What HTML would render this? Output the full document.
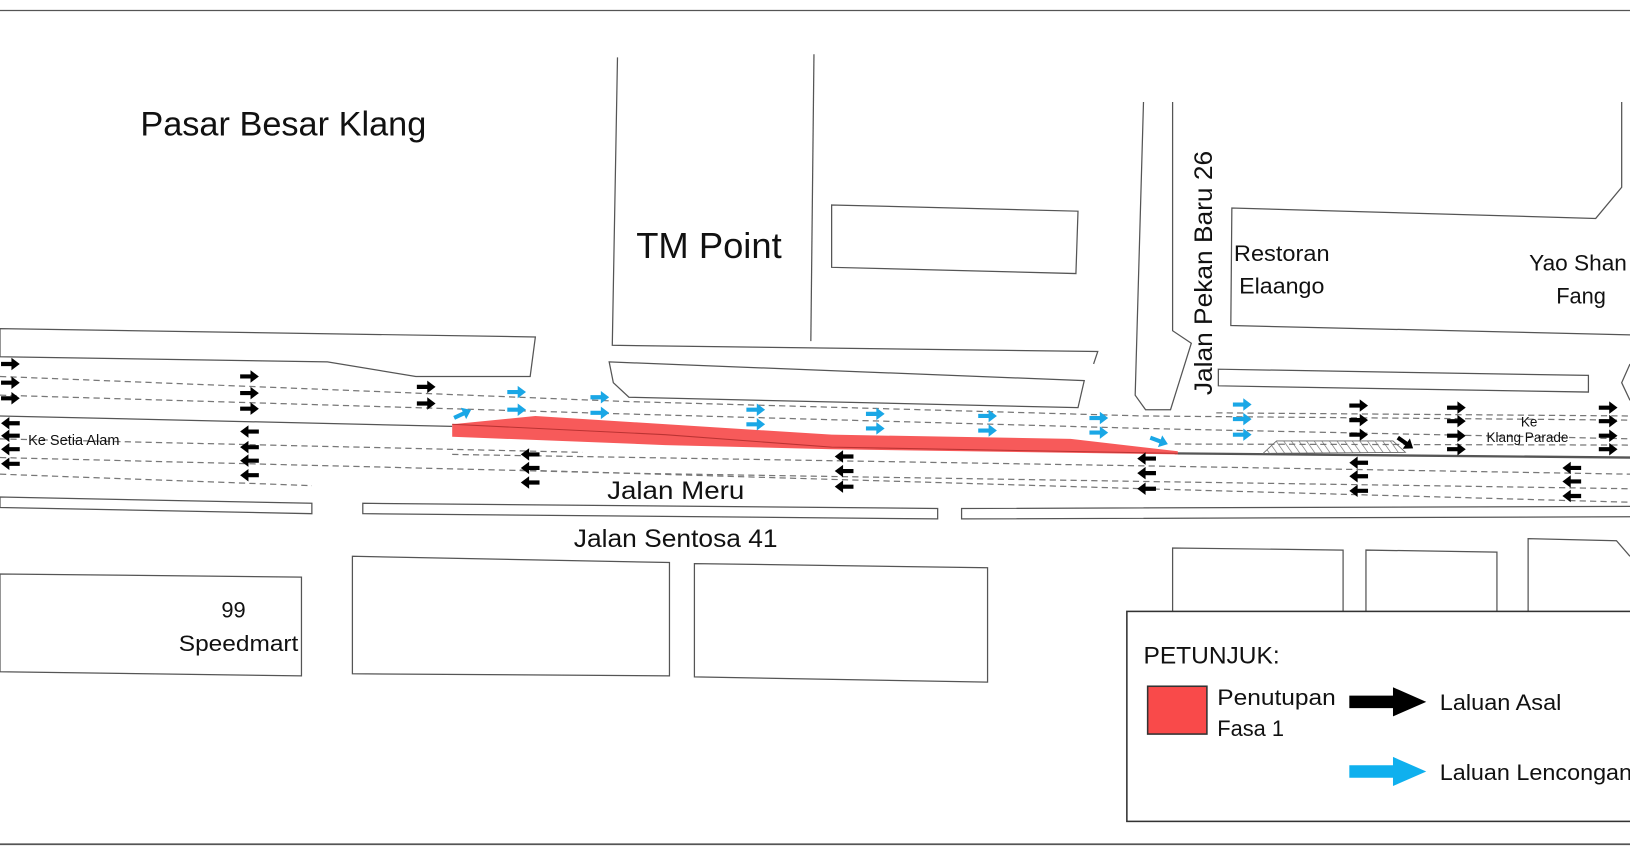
<!DOCTYPE html>
<html><head><meta charset="utf-8"><style>
html,body{margin:0;padding:0;background:#fff;}
svg{display:block;}
text{font-family:"Liberation Sans",sans-serif;fill:#111;}
</style></head><body>
<svg width="1630" height="860" viewBox="0 0 1568 827" xmlns="http://www.w3.org/2000/svg">
<defs>
<pattern id="hatch" width="6" height="6" patternUnits="userSpaceOnUse" patternTransform="rotate(-35)"><line x1="0" y1="0" x2="0" y2="6" stroke="#666" stroke-width="1.2"/></pattern>
<g id="ar"><path d="M-9,-2 L1,-2 L1,-6 L9,0 L1,6 L1,2 L-9,2 Z" fill="#000"/></g>
<g id="al"><path d="M9,-2 L-1,-2 L-1,-6 L-9,0 L-1,6 L-1,2 L9,2 Z" fill="#000"/></g>
<g id="ab"><path d="M-9,-2 L1,-2 L1,-6 L9,0 L1,6 L1,2 L-9,2 Z" fill="#1aa7e6"/></g>
</defs>
<g fill="none" stroke="#555" stroke-width="1.2">
<line x1="0" y1="10" x2="1568" y2="10"/>
<line x1="0" y1="812" x2="1568" y2="812" stroke-width="1.6"/>
<polygon points="0,316 515,324 510,362 400,362 315,348 0,343"/>
<polyline points="594,55 589,332 1056,338 1052,350"/>
<polyline points="783,52 780,328"/>
<polygon points="586,348 1043,366 1037,392 605,382 590,368"/>
<polygon points="800,197 1037,203 1035,263 800,257"/>
<polyline points="1100,98 1092,380 1102,394 1126,394 1146,330 1128,318 1128,98"/>
<polyline points="1560,98 1560,180 1535,210 1185,200 1184,313 1568,322"/>
<polygon points="1172,355 1528,361 1528,377 1172,371"/>
<polyline points="1568,350 1560,368 1568,385"/>
<polyline points="0,400 435,410"/>
<polyline points="1130,436 1568,440" stroke-width="2.2"/>
<polygon points="0,478 300,484 300,494 0,488"/>
<polygon points="349,484 902,489 902,499 349,494"/>
<polyline points="1568,487 925,489 925,499 1568,497"/>
<polygon points="0,552 290,555 290,650 0,646"/>
<polygon points="339,535 644,541 644,650 339,648"/>
<polygon points="668,542 950,546 950,656 668,651"/>
<polyline points="1128,588 1128,527 1292,529 1292,588"/>
<polyline points="1314,588 1314,529 1440,531 1440,588"/>
<polyline points="1470,588 1470,518 1555,520 1568,535"/>
</g>
<g fill="none" stroke="#777" stroke-width="1.2" stroke-dasharray="6,4">
<polyline points="0,362 600,386 1100,400 1568,404"/>
<polyline points="0,380 600,398 1100,412 1568,422"/>
<polyline points="1170,397 1568,400"/>
<polyline points="1130,427 1568,428"/>
<polyline points="0,422 560,435"/>
<polyline points="0,440 600,455 1100,463 1568,470"/>
<polyline points="0,456 300,467"/>
<polyline points="500,452 1100,470 1568,483"/>
<polyline points="435,437 1100,448 1568,456"/>
</g>
<polygon points="435,408 515,400 800,418 1030,422 1133,434 1133,437 800,432 640,428 435,420" fill="#f75a5a"/>
<polyline points="435,408 640,418 800,430 1133,436" fill="none" stroke="#b33" stroke-width="1"/>
<polygon points="1228,424 1340,424 1352,435 1215,436" fill="url(#hatch)" stroke="#666" stroke-width="0.8"/>
<g>
<use href="#ar" x="10" y="350"/><use href="#ar" x="10" y="368"/><use href="#ar" x="10" y="383"/>
<use href="#ar" x="240" y="362"/><use href="#ar" x="240" y="378"/><use href="#ar" x="240" y="393"/>
<use href="#ar" x="410" y="372"/><use href="#ar" x="410" y="388"/>
<use href="#ar" x="1307" y="390"/><use href="#ar" x="1307" y="404"/><use href="#ar" x="1307" y="418"/>
<use href="#ar" x="1401" y="392"/><use href="#ar" x="1401" y="405"/><use href="#ar" x="1401" y="419"/><use href="#ar" x="1401" y="432"/>
<use href="#ar" x="1547" y="392"/><use href="#ar" x="1547" y="405"/><use href="#ar" x="1547" y="419"/><use href="#ar" x="1547" y="432"/>
<use href="#al" x="10" y="407"/><use href="#al" x="10" y="419"/><use href="#al" x="10" y="432"/><use href="#al" x="10" y="446"/>
<use href="#al" x="240" y="415"/><use href="#al" x="240" y="430"/><use href="#al" x="240" y="443"/><use href="#al" x="240" y="457"/>
<use href="#al" x="510" y="437"/><use href="#al" x="510" y="450"/><use href="#al" x="510" y="464"/>
<use href="#al" x="812" y="439"/><use href="#al" x="812" y="453"/><use href="#al" x="812" y="468"/>
<use href="#al" x="1103" y="441"/><use href="#al" x="1103" y="455"/><use href="#al" x="1103" y="470"/>
<use href="#al" x="1307" y="445"/><use href="#al" x="1307" y="458"/><use href="#al" x="1307" y="472"/>
<use href="#al" x="1512" y="450"/><use href="#al" x="1512" y="463"/><use href="#al" x="1512" y="477"/>
<use href="#ar" transform="translate(1352,426) rotate(35)"/>
</g>
<g>
<use href="#ab" x="497" y="377"/><use href="#ab" x="497" y="394"/>
<use href="#ab" x="577" y="382"/><use href="#ab" x="577" y="397"/>
<use href="#ab" x="727" y="394"/><use href="#ab" x="727" y="408"/>
<use href="#ab" x="842" y="398"/><use href="#ab" x="842" y="412"/>
<use href="#ab" x="950" y="400"/><use href="#ab" x="950" y="414"/>
<use href="#ab" x="1057" y="402"/><use href="#ab" x="1057" y="416"/>
<use href="#ab" x="1195" y="389"/><use href="#ab" x="1195" y="403"/><use href="#ab" x="1195" y="418"/>
<use href="#ab" transform="translate(445,398) rotate(-25)"/>
<use href="#ab" transform="translate(1115,424) rotate(20)"/>
</g>
<text x="135" y="130" font-size="33">Pasar Besar Klang</text>
<text x="612" y="248" font-size="35">TM Point</text>
<text transform="translate(1166,380) rotate(-90)" font-size="24" textLength="235" lengthAdjust="spacingAndGlyphs">Jalan Pekan Baru 26</text>
<text x="1187" y="251" font-size="21" textLength="92" lengthAdjust="spacingAndGlyphs">Restoran</text>
<text x="1192" y="282" font-size="21" textLength="82" lengthAdjust="spacingAndGlyphs">Elaango</text>
<text x="1471" y="260" font-size="21" textLength="94" lengthAdjust="spacingAndGlyphs">Yao Shan</text>
<text x="1497" y="292" font-size="21">Fang</text>
<text x="27" y="428" font-size="14" fill="#333">Ke Setia Alam</text>
<text x="1463" y="410" font-size="13" fill="#333">Ke</text>
<text x="1430" y="425" font-size="13" fill="#333">Klang Parade</text>
<text x="584" y="480" font-size="24" textLength="132" lengthAdjust="spacingAndGlyphs">Jalan Meru</text>
<text x="552" y="526" font-size="24" textLength="196" lengthAdjust="spacingAndGlyphs">Jalan Sentosa 41</text>
<text x="213" y="594" font-size="21">99</text>
<text x="172" y="626" font-size="21" textLength="115" lengthAdjust="spacingAndGlyphs">Speedmart</text>
<rect x="1084" y="588" width="490" height="202" fill="#fff" stroke="#333" stroke-width="1.5"/>
<text x="1100" y="638" font-size="23" textLength="131" lengthAdjust="spacingAndGlyphs">PETUNJUK:</text>
<rect x="1104" y="660" width="57" height="46" fill="#f94a4a" stroke="#333" stroke-width="1.5"/>
<text x="1171" y="678" font-size="21" textLength="114" lengthAdjust="spacingAndGlyphs">Penutupan</text>
<text x="1171" y="708" font-size="21">Fasa 1</text>
<path d="M1298,669 L1340,669 L1340,661 L1372,675 L1340,689 L1340,681 L1298,681 Z" fill="#000"/>
<text x="1385" y="683" font-size="21" textLength="117" lengthAdjust="spacingAndGlyphs">Laluan Asal</text>
<path d="M1298,736 L1340,736 L1340,728 L1372,742 L1340,756 L1340,748 L1298,748 Z" fill="#0fb0ee"/>
<text x="1385" y="750" font-size="21" textLength="185" lengthAdjust="spacingAndGlyphs">Laluan Lencongan</text>
</svg>
</body></html>
